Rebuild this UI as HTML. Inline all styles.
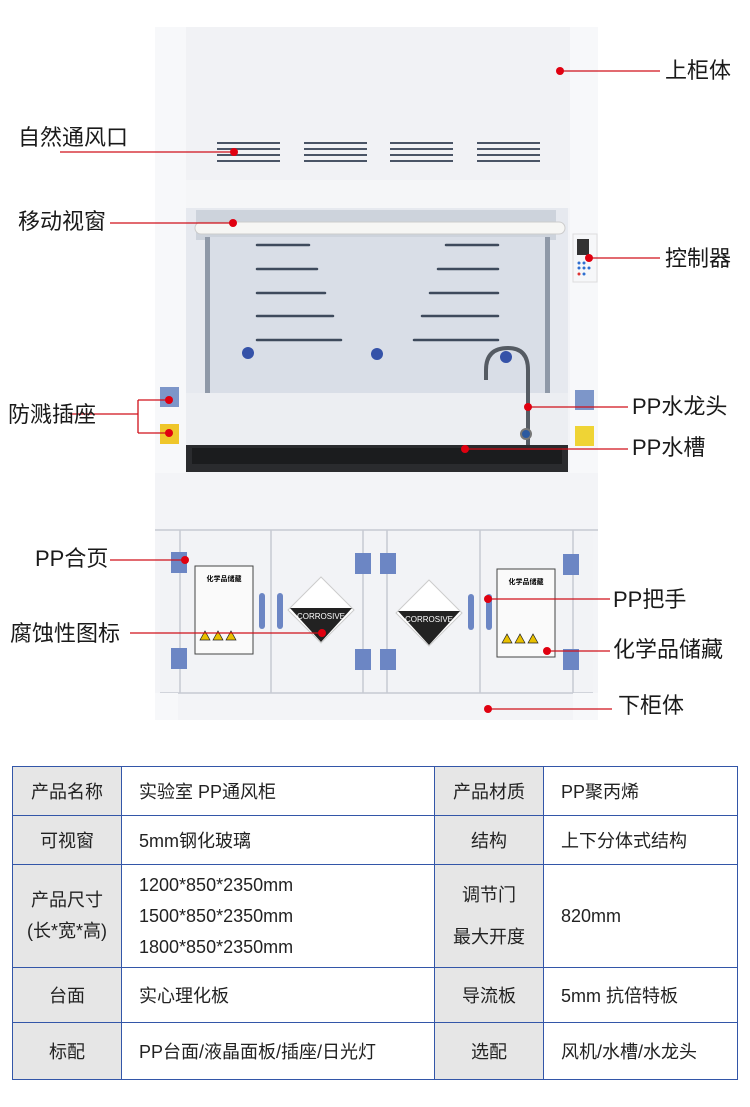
<!DOCTYPE html>
<html><head><meta charset="utf-8"><style>
*{margin:0;padding:0;box-sizing:border-box}
body{width:750px;height:1107px;background:#fff;position:relative;overflow:hidden;font-family:"Liberation Sans","Noto Sans CJK SC",sans-serif;color:#222}
.l{position:absolute;font-size:22px;line-height:24px;white-space:nowrap;color:#1a1a1a}
svg{position:absolute;left:0;top:0}
table{position:absolute;left:12px;top:766px;border-collapse:collapse;font-size:18px;color:#222}
td{border:1.5px solid #3356a8;vertical-align:middle}
td.g{background:#e6e6e6;text-align:center}
td.v{padding-left:17px}
</style></head><body>
<svg width="750" height="740" viewBox="0 0 750 740">
<rect x="155" y="27" width="443" height="446" fill="#f3f4f7"/>
<rect x="155" y="27" width="31" height="446" fill="#f7f8fa"/>
<rect x="570" y="27" width="28" height="446" fill="#f7f8fa"/>
<rect x="186" y="27" width="384" height="153" fill="#f1f2f5"/>
<rect x="186" y="180" width="384" height="28" fill="#f5f6f8"/>
<g stroke="#4a5566" stroke-width="2">
<path d="M217 143h63M217 149h63M217 155h63M217 161h63"/>
<path d="M304 143h63M304 149h63M304 155h63M304 161h63"/>
<path d="M390 143h63M390 149h63M390 155h63M390 161h63"/>
<path d="M477 143h63M477 149h63M477 155h63M477 161h63"/>
</g>
<rect x="186" y="208" width="382" height="240" fill="#e6e9ef"/>
<rect x="196" y="210" width="360" height="30" fill="#cdd3dc"/>
<rect x="210" y="237" width="335" height="156" fill="#d9dee7"/>
<rect x="205" y="237" width="5" height="156" fill="#8f99a8"/>
<rect x="545" y="237" width="5" height="156" fill="#8f99a8"/>
<rect x="186" y="393" width="382" height="52" fill="#eceef2"/>
<rect x="195" y="222" width="370" height="12" rx="6" fill="#f6f6f4" stroke="#ccc"/>
<g stroke="#3e4a5c" stroke-width="2.5" stroke-linecap="round">
<path d="M257 245h52M257 269h60M257 293h68M257 316h76M257 340h84"/>
<path d="M446 245h52M438 269h60M430 293h68M422 316h76M414 340h84"/>
</g>
<circle cx="248" cy="353" r="6" fill="#3552a8"/>
<circle cx="377" cy="354" r="6" fill="#3552a8"/>
<circle cx="506" cy="357" r="6" fill="#3552a8"/>
<path d="M528 448V370q0-22-20-22q-22 0-22 22v10" fill="none" stroke="#555b63" stroke-width="4"/>
<circle cx="526" cy="434" r="5" fill="#2c5aa0" stroke="#777" stroke-width="2"/>
<rect x="186" y="445" width="382" height="27" fill="#2a2b2e"/>
<rect x="192" y="448" width="370" height="16" fill="#1b1c1e"/>
<rect x="160" y="387" width="19" height="20" fill="#7d96c9"/>
<rect x="160" y="424" width="19" height="20" fill="#efc62a"/>
<rect x="575" y="390" width="19" height="20" fill="#7d96c9"/>
<rect x="575" y="426" width="19" height="20" fill="#efd435"/>
<rect x="573" y="234" width="24" height="48" fill="#f6f7f9" stroke="#ddd"/>
<rect x="577" y="239" width="12" height="16" fill="#333"/>
<g fill="#2f6fd0"><circle cx="579" cy="263" r="1.5"/><circle cx="584" cy="263" r="1.5"/><circle cx="579" cy="268" r="1.5"/><circle cx="584" cy="268" r="1.5"/><circle cx="589" cy="268" r="1.5"/><circle cx="584" cy="274" r="1.5"/></g>
<circle cx="579" cy="274" r="1.5" fill="#d33"/>
<rect x="155" y="473" width="443" height="247" fill="#f3f4f7"/>
<rect x="160" y="530" width="433" height="163" fill="#f2f3f6"/>
<g stroke="#c6cad2" stroke-width="1.5" fill="none">
<path d="M180 530v163M271 530v163M363 530v163M387 530v163M480 530v163M573 530v163M155 530h443M160 693h433"/>
</g>
<rect x="155" y="693" width="23" height="27" fill="#f7f8fa"/>
<rect x="573" y="693" width="25" height="27" fill="#f7f8fa"/>
<g fill="#6c86c4">
<rect x="171" y="552" width="16" height="21"/><rect x="171" y="648" width="16" height="21"/>
<rect x="355" y="553" width="16" height="21"/><rect x="355" y="649" width="16" height="21"/>
<rect x="380" y="553" width="16" height="21"/><rect x="380" y="649" width="16" height="21"/>
<rect x="563" y="554" width="16" height="21"/><rect x="563" y="649" width="16" height="21"/>
<rect x="259" y="593" width="6" height="36" rx="3"/><rect x="277" y="593" width="6" height="36" rx="3"/>
<rect x="468" y="594" width="6" height="36" rx="3"/><rect x="486" y="594" width="6" height="36" rx="3"/>
</g>
<rect x="195" y="566" width="58" height="88" fill="#fafafa" stroke="#444"/>
<text x="224" y="581" font-size="7" text-anchor="middle" font-weight="bold" font-family="Noto Sans CJK SC">化学品储藏</text>
<rect x="497" y="569" width="58" height="88" fill="#fafafa" stroke="#444"/>
<text x="526" y="584" font-size="7" text-anchor="middle" font-weight="bold" font-family="Noto Sans CJK SC">化学品储藏</text>
<g fill="#e8c000" stroke="#222" stroke-width=".7">
<path d="M200 640l5-9 5 9z M213 640l5-9 5 9z M226 640l5-9 5 9z"/>
<path d="M502 643l5-9 5 9z M515 643l5-9 5 9z M528 643l5-9 5 9z"/>
</g>
<path d="M321 577l33 33-33 33-33-33z" fill="#fff" stroke="#ccc"/>
<path d="M290 608h62l-31 34z" fill="#222"/>
<text x="321" y="619" font-size="8" fill="#fff" text-anchor="middle">CORROSIVE</text>
<path d="M429 580l33 33-33 33-33-33z" fill="#fff" stroke="#ccc"/>
<path d="M398 611h62l-31 34z" fill="#222"/>
<text x="429" y="622" font-size="8" fill="#fff" text-anchor="middle">CORROSIVE</text>
<g stroke="#d0101a" stroke-width="1.3" fill="none">
<path d="M560 71H660M60 152H234M110 223H233M588 258H660M70 414H138M138 400V433M138 400H168M138 433H168M528 407H628M465 449H628M110 560H184M130 633H322M487 599H610M547 651H610M488 709H612"/>
</g>
<g fill="#e00010">
<circle cx="560" cy="71" r="4"/><circle cx="234" cy="152" r="4"/><circle cx="233" cy="223" r="4"/><circle cx="589" cy="258" r="4"/>
<circle cx="169" cy="400" r="4"/><circle cx="169" cy="433" r="4"/><circle cx="528" cy="407" r="4"/><circle cx="465" cy="449" r="4"/>
<circle cx="185" cy="560" r="4"/><circle cx="322" cy="633" r="4"/><circle cx="488" cy="599" r="4"/><circle cx="547" cy="651" r="4"/><circle cx="488" cy="709" r="4"/>
</g>
</svg>
<div class="l" style="left:665px;top:59px">上柜体</div>
<div class="l" style="left:18px;top:126px">自然通风口</div>
<div class="l" style="left:18px;top:210px">移动视窗</div>
<div class="l" style="left:665px;top:247px">控制器</div>
<div class="l" style="left:8px;top:403px">防溅插座</div>
<div class="l" style="left:632px;top:395px">PP水龙头</div>
<div class="l" style="left:632px;top:436px">PP水槽</div>
<div class="l" style="left:35px;top:547px">PP合页</div>
<div class="l" style="left:10px;top:622px">腐蚀性图标</div>
<div class="l" style="left:613px;top:588px">PP把手</div>
<div class="l" style="left:613px;top:638px">化学品储藏</div>
<div class="l" style="left:618px;top:694px">下柜体</div>
<table>
<tr style="height:49px"><td class="g" style="width:109px">产品名称</td><td class="v" style="width:313px">实验室 PP通风柜</td><td class="g" style="width:109px">产品材质</td><td class="v" style="width:194px">PP聚丙烯</td></tr>
<tr style="height:49px"><td class="g">可视窗</td><td class="v">5mm钢化玻璃</td><td class="g">结构</td><td class="v">上下分体式结构</td></tr>
<tr style="height:103px"><td class="g" style="line-height:31px">产品尺寸<br>(长*宽*高)</td><td class="v" style="line-height:31px">1200*850*2350mm<br>1500*850*2350mm<br>1800*850*2350mm</td><td class="g" style="line-height:42px">调节门<br>最大开度</td><td class="v">820mm</td></tr>
<tr style="height:55px"><td class="g">台面</td><td class="v">实心理化板</td><td class="g">导流板</td><td class="v">5mm 抗倍特板</td></tr>
<tr style="height:57px"><td class="g">标配</td><td class="v">PP台面/液晶面板/插座/日光灯</td><td class="g">选配</td><td class="v">风机/水槽/水龙头</td></tr>
</table>
</body></html>
